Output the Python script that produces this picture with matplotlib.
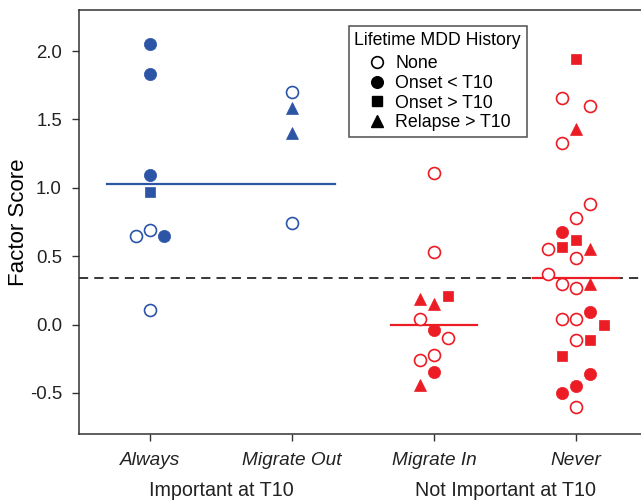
import numpy as np
import matplotlib.pyplot as plt

plt.rcParams['font.family'] = ['Liberation Sans', 'DejaVu Sans']

# ------------------------------------------------------------------
# data
# history codes: N = none, O = onset < T10, S = onset > T10, R = relapse > T10
# slot = horizontal jitter slot within the column (-2 .. 2)
# ------------------------------------------------------------------
groups = ['Always', 'Migrate Out', 'Migrate In', 'Never']
important = [True, True, False, False]

always_val = [2.05, 1.83, 1.09, 0.97, 0.65, 0.69, 0.65, 0.11]
always_hist = ['O', 'O', 'O', 'S', 'N', 'N', 'O', 'N']
always_slot = [0, 0, 0, 0, -1, 0, 1, 0]

migout_val = [1.70, 1.58, 1.40, 0.74]
migout_hist = ['N', 'R', 'R', 'N']
migout_slot = [0, 0, 0, 0]

migin_val = [1.11, 0.53, 0.19, 0.15, 0.21, 0.04, -0.04, -0.10, -0.22, -0.26, -0.35, -0.44]
migin_hist = ['N', 'N', 'R', 'R', 'S', 'N', 'O', 'N', 'N', 'N', 'O', 'R']
migin_slot = [0, 0, -1, 0, 1, -1, 0, 1, 0, -1, 0, -1]

never_val = [1.94, 1.66, 1.60, 1.43, 1.33, 0.88, 0.78, 0.68, 0.62, 0.57, 0.55, 0.55,
             0.49, 0.37, 0.30, 0.30, 0.27, 0.09, 0.04, 0.04, 0.00, -0.11, -0.11,
             -0.23, -0.36, -0.45, -0.50, -0.60]
never_hist = ['S', 'N', 'N', 'R', 'N', 'N', 'N', 'O', 'S', 'S', 'R', 'N',
              'N', 'N', 'N', 'R', 'N', 'O', 'N', 'N', 'S', 'N', 'S',
              'S', 'O', 'O', 'O', 'N']
never_slot = [0, -1, 1, 0, -1, 1, 0, -1, 0, -1, 1, -2,
              0, -2, -1, 1, 0, 1, -1, 0, 2, 0, 1,
              -1, 1, 0, -1, 0]

# mean lines: (value, start column, end column)
mean_lines = [(1.03, 1, 2), (0.00, 3, 3), (0.34, 4, 4)]
grand_mean = 0.34

legend_title = 'Lifetime MDD History'
hist_labels = {'N': 'None', 'O': 'Onset < T10', 'S': 'Onset > T10', 'R': 'Relapse > T10'}

# ------------------------------------------------------------------
blue = '#2c55a6'
red = '#ec1c24'
marker_of = {'N': 'o', 'O': 'o', 'S': 's', 'R': '^'}
size_of = {'N': 8.6, 'O': 8.8, 'S': 7.4, 'R': 8.8}
jit = 0.1

fig = plt.figure(figsize=(6.41, 5.0), dpi=100)
ax = fig.add_axes([0.1232, 0.132, 0.8862, 0.848])

cols = [(always_val, always_hist, always_slot),
        (migout_val, migout_hist, migout_slot),
        (migin_val, migin_hist, migin_slot),
        (never_val, never_hist, never_slot)]

for i, (vals, hist, slot) in enumerate(cols):
    c = blue if important[i] else red
    for v, h, s in zip(vals, hist, slot):
        x = i + 1 + s * jit
        if h == 'N':
            ax.plot(x, v, marker='o', ms=size_of[h], mfc='white', mec=c,
                    mew=1.2, ls='none', zorder=3)
        else:
            ax.plot(x, v, marker=marker_of[h], ms=size_of[h], mfc=c, mec=c,
                    mew=0.5, ls='none', zorder=3)

ax.axhline(grand_mean, color='black', lw=1.1, ls=(0, (6, 4)), zorder=1)
for v, a, b in mean_lines:
    c = blue if important[a - 1] else red
    ax.plot([a - 0.3, b + 0.3], [v, v], color=c, lw=1.6, zorder=2)

ax.set_xlim(0.5, 4.5)
ax.set_ylim(-0.8, 2.3)
ax.set_xticks(range(1, 5))
ax.set_xticklabels(groups, fontstyle='italic', fontsize=13.7)
ax.set_yticks([-0.5, 0.0, 0.5, 1.0, 1.5, 2.0])
ax.set_yticklabels(['-0.5', '0.0', '0.5', '1.0', '1.5', '2.0'], fontsize=13.4)
ax.tick_params(direction='out', length=4.8, width=1, color='#333333', pad=7.5,
               labelcolor='#222222')
ax.tick_params(axis='x', pad=8.5)
ax.set_ylabel('Factor Score', fontsize=16)
ax.yaxis.set_label_coords(-0.088, 0.5)
for sp in ax.spines.values():
    sp.set_linewidth(1.1)
    sp.set_color('#333333')

ax.text(1.5, -0.134, 'Important at T10', transform=ax.get_xaxis_transform(),
        ha='center', va='center', fontsize=14.2, color='#222222')
ax.text(3.5, -0.134, 'Not Important at T10', transform=ax.get_xaxis_transform(),
        ha='center', va='center', fontsize=14.2, color='#222222')

handles = []
for key in ['N', 'O', 'S', 'R']:
    if key == 'N':
        h, = ax.plot([], [], marker='o', ms=8.4, mfc='white', mec='black', mew=1.2, ls='none')
    else:
        h, = ax.plot([], [], marker=marker_of[key], ms=size_of[key] - 0.4, color='black', ls='none')
    handles.append(h)
leg = ax.legend(handles, [hist_labels[k] for k in ['N', 'O', 'S', 'R']],
                title=legend_title, loc='upper left', bbox_to_anchor=(0.475, 0.962),
                borderaxespad=0, fontsize=12.8, title_fontsize=12.7, frameon=True,
                fancybox=False, edgecolor='#222222', handletextpad=-0.24,
                handlelength=2.53, labelspacing=0.16, borderpad=0.32,
                alignment='left')
leg.get_frame().set_linewidth(1.1)
leg._legend_box.sep = 4.4  # a bit more room under the title

fig.savefig('out.png', dpi=100)
